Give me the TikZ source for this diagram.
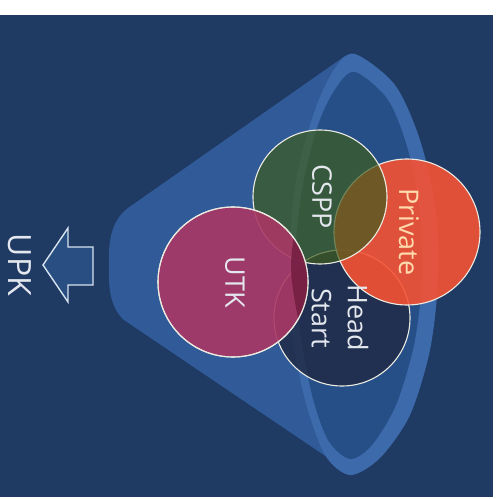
\documentclass[tikz,border=0pt]{standalone}
\usepackage{fontspec}
\setmainfont{Open Sans}
\usepackage{xcolor}
\usepackage{tikz}
\usetikzlibrary{positioning}
\definecolor{slidebg}{RGB}{31,58,99}
\definecolor{funnelbody}{RGB}{48,91,152}
\definecolor{funnelrim}{RGB}{60,106,170}
\definecolor{funnelinner}{RGB}{38,79,136}
\definecolor{hscolor}{RGB}{32,42,68}
\definecolor{privcolor}{RGB}{245,82,52}
\definecolor{csppcolor}{RGB}{62,92,30}
\definecolor{utkcolor}{RGB}{170,55,100}
\definecolor{utkdark}{RGB}{112,28,62}
\definecolor{ringline}{RGB}{235,235,225}
\definecolor{tagtext}{RGB}{228,232,238}
\definecolor{privtext}{RGB}{255,218,172}
\definecolor{arrowfill}{RGB}{40,78,130}
\definecolor{arrowline}{RGB}{215,228,240}

\begin{document}
\begin{tikzpicture}[
  x=1pt, y=-1pt,
  ring/.style={circle, draw=ringline, line width=1.1pt, minimum size=#1, inner sep=0pt},
  tag/.style={text=tagtext, font=\fontsize{27}{36}\selectfont, rotate=-90, inner sep=0pt},
  upkarrow/.style={draw=arrowline, line width=1.4pt, fill=arrowfill, line join=miter}
]
\useasboundingbox (0,0) rectangle (498,499);
\fill[white] (0,0) rectangle (498,499);
\fill[slidebg] (0,15) rectangle (493,497);

% funnel
\fill[funnelbody] (128,208) -- (345,56) -- (352,474) -- (124,320)
  .. controls (111,308) and (108,290) .. (109,265)
  .. controls (108,240) and (112,220) .. cycle;
\fill[funnelrim] plot[smooth cycle] coordinates {(355,54) (395,85) (420,140) (436,210) (438,280) (430,350) (410,415) (380,458) (350,475) (325,455) (305,400) (292,330) (289,260) (296,180) (315,110) (335,68)};
\fill[funnelinner] plot[smooth cycle] coordinates {(355,72) (388,100) (408,150) (420,215) (422,280) (414,345) (396,405) (372,445) (350,459) (328,440) (312,395) (300,330) (295,265) (302,190) (318,125) (336,88)};

% circles
\node[ring=136pt, fill=hscolor, fill opacity=0.82] (headstart) at (342,318) {};
\node[ring=146pt, fill=privcolor, fill opacity=0.9] (private) at (407,232) {};
\node[ring=134pt, fill=csppcolor, fill opacity=0.7] (cspp) at (320,197) {};
\node[ring=150pt, fill=utkcolor, fill opacity=0.9] (utk) at (233,282) {};
\begin{scope}
  \clip (utk.center) circle (75);
  \fill[utkdark, fill opacity=0.8] plot[smooth cycle] coordinates {(355,72) (388,100) (408,150) (420,215) (422,280) (414,345) (396,405) (372,445) (350,459) (328,440) (312,395) (300,330) (291,265) (302,190) (318,125) (336,88)};
\end{scope}
\draw[ringline, line width=1.1pt] (utk.center) circle (75);

% labels
\node[tag] (utklabel) at (235,282) {UTK};
\node[tag] (cspplabel) at (322,197) {CSPP};
\node[tag, text=privtext] (privlabel) at (409,232) {Private};
\node[tag, align=center] (hslabel) at (340,318) {Head\\Start};

% UPK arrow
\draw[upkarrow] (43,265) -- (68,228) -- (68,247) -- (93,247) -- (93,285) -- (68,285) -- (68,302) -- cycle;
\node[tag, font=\fontsize{32}{36}\selectfont] (upklabel) at (20,265) {UPK};
\end{tikzpicture}
\end{document}
